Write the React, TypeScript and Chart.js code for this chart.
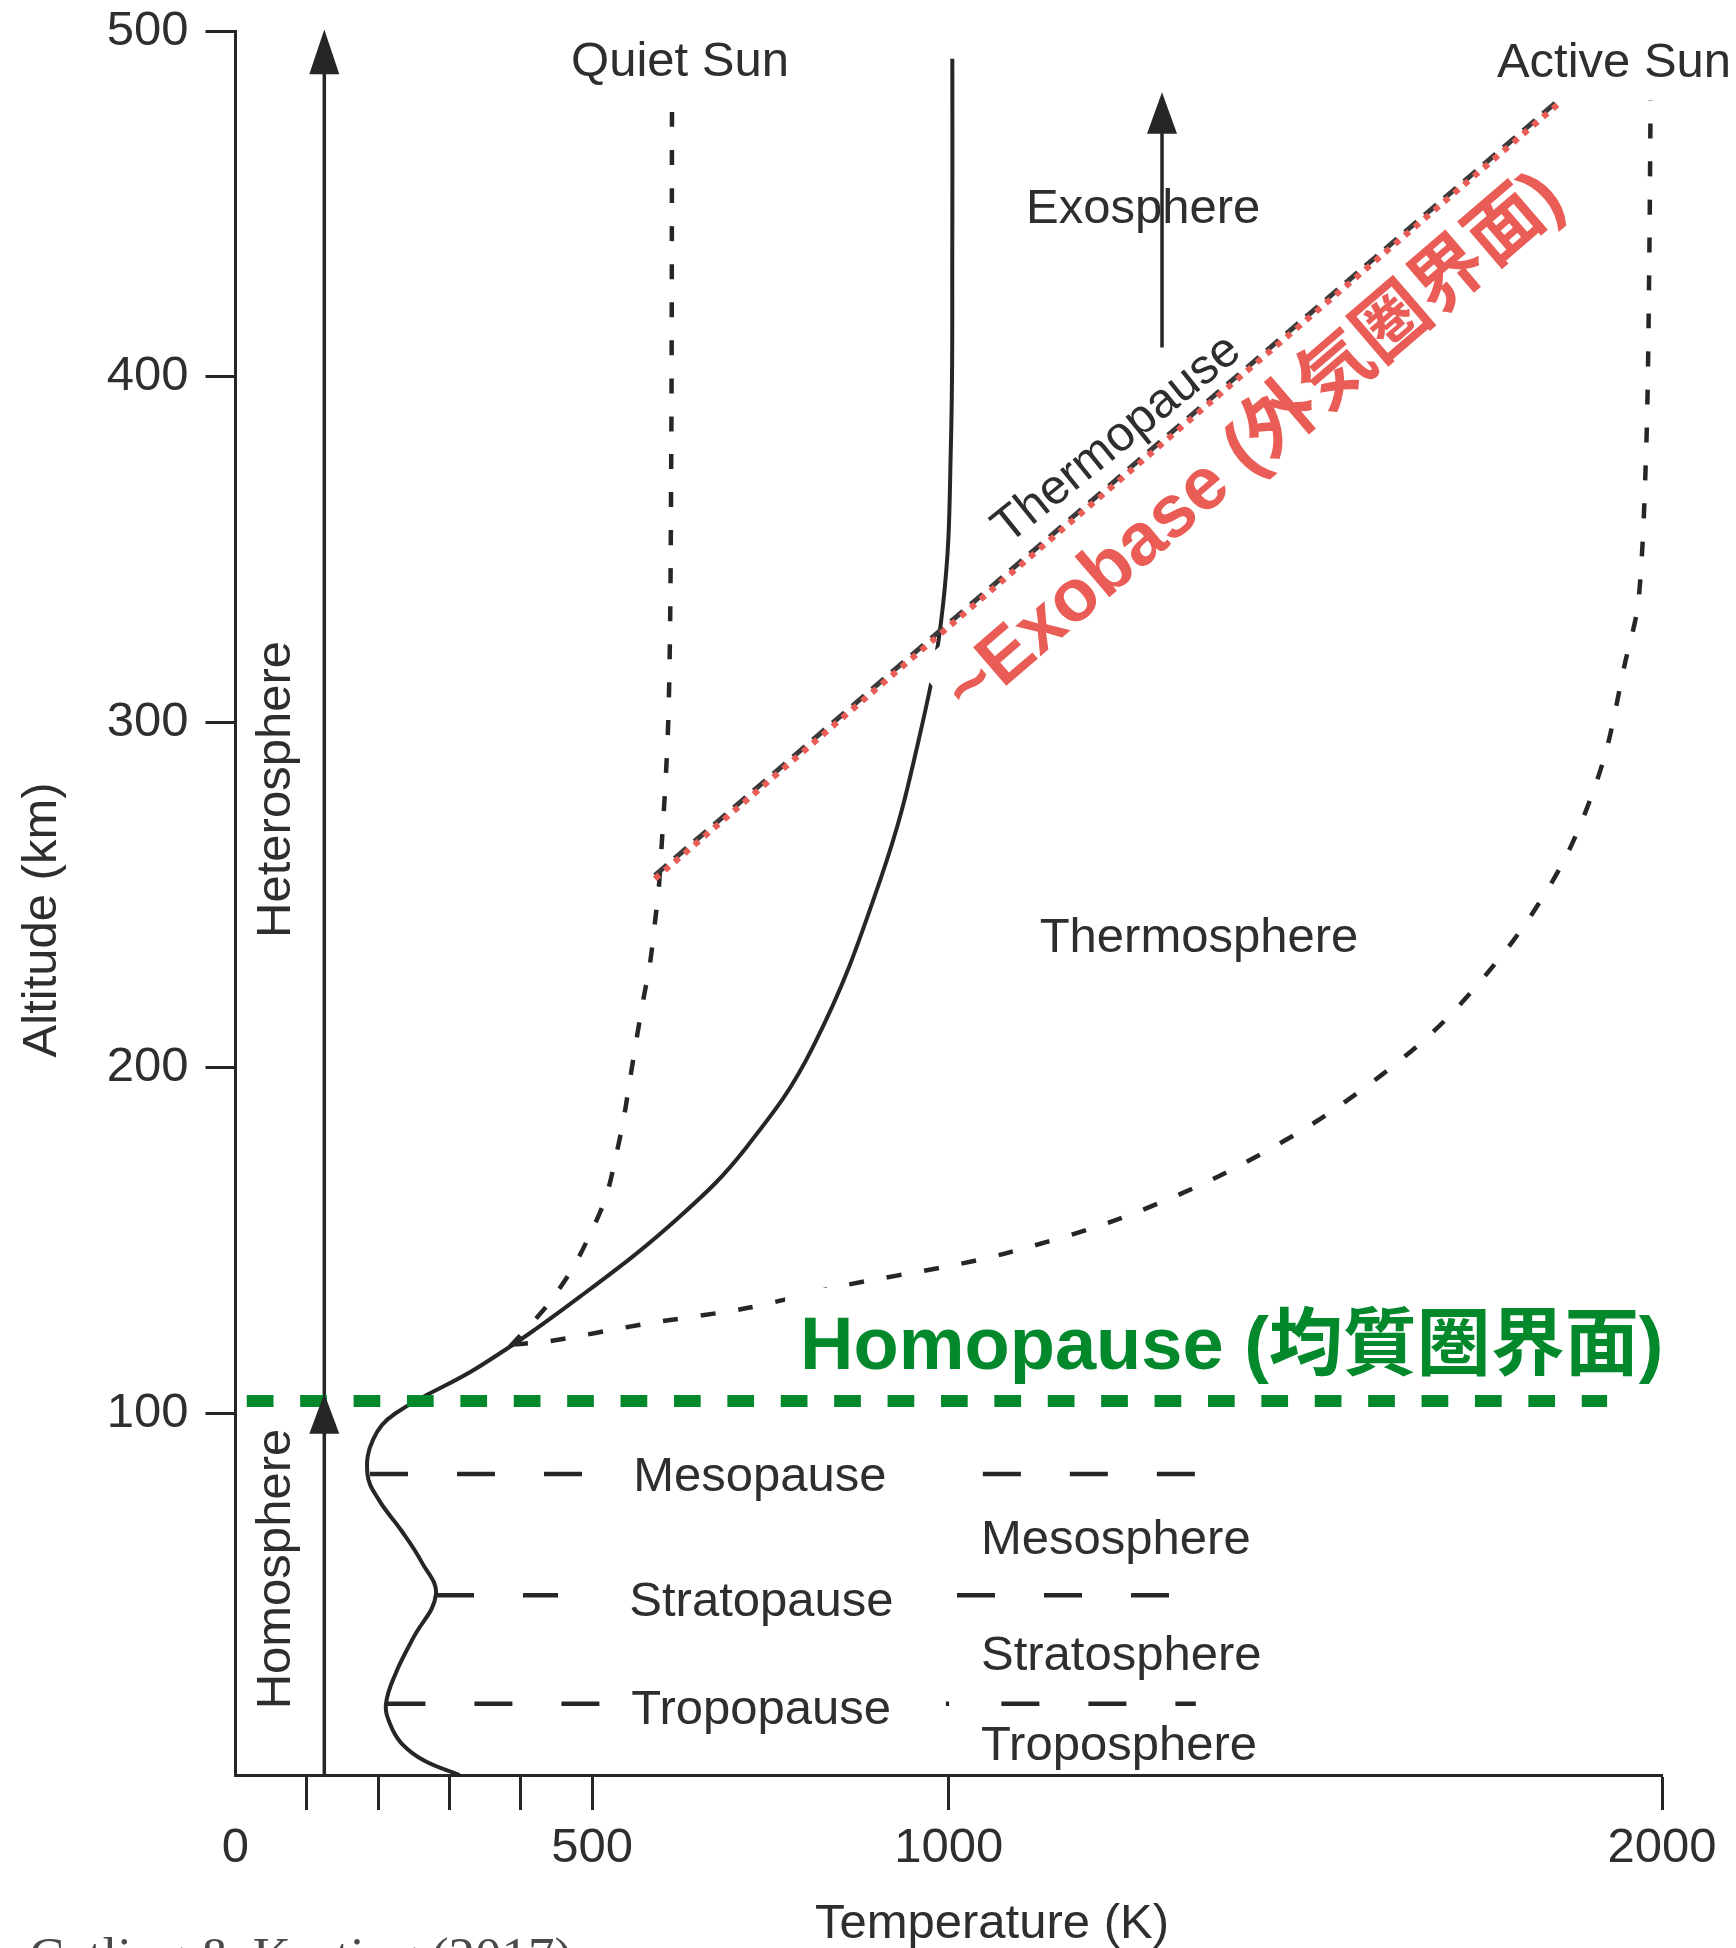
import React, { useEffect, useRef } from 'react';
import { Chart, registerables } from 'chart.js';

Chart.register(...registerables);

const W = 1736;
const H = 1948;

// ---------- axes ----------
const tempMin = 0;
const tempMax = 2000;
const altMin = -4.6;
const altMax = 500;
const tempTickValues = [0, 100, 200, 300, 400, 500, 1000, 2000];
const tempTickLabels = [0, 500, 1000, 2000];
const altTickValues = [100, 200, 300, 400, 500];

// ---------- mean temperature profile (K, km) ----------
const profileT = [314, 265, 233, 217, 211, 225, 249, 281, 261, 233, 201, 185, 193, 224, 342, 483, 623, 717, 810, 904, 958, 992, 1003, 1005, 1005];
const profileAlt = [-4.6, -0.5, 4.5, 10, 16, 25, 35, 47.6, 57, 66, 75, 82.5, 92.5, 100, 113.6, 133.8, 157, 177.2, 206.2, 254.4, 295, 334, 380, 440, 492];

// ---------- solar-condition branches ----------
const quietSunT = [385, 436, 474, 502, 520, 534, 544, 553, 562, 572, 581, 588, 594, 607, 611, 612];
const quietSunAlt = [119.4, 131, 142.5, 154, 163, 175, 185, 196.5, 208, 220, 230, 242, 253.4, 302, 380, 479];
const activeSunT = [389, 436, 577, 717, 857, 997, 1081, 1231, 1380, 1530, 1679, 1791, 1866, 1918, 1948, 1967, 1978, 1982, 1984];
const activeSunAlt = [120, 120.8, 126, 130.5, 137.2, 142.5, 146.4, 155.7, 168.8, 186.5, 210.4, 236.7, 261.4, 289, 317, 335, 380, 430, 480];

// ---------- thermopause / exobase ----------
const exobaseT = [588, 1858];
const exobaseAlt = [254.7, 479.5];
const thermopauseAlt = [255.7, 480.5];

// ---------- pauses (dashed levels) ----------
const pauseNames = ['Mesopause', 'Stratopause', 'Tropopause'];
const pauseAlt = [82.5, 47.4, 16.0];
const pauseLeftT = [[188.6, 486.7], [281.1, 452.2], [213.0, 510.8]];
const pauseRightT = [[1047.8, 1346.4], [1011.6, 1314.7], [1073.8, 1346.4]];
const tropopauseDotT = [996, 1000.5];
const pauseLabelT = [557.7, 552.1, 555];
const pauseLabelAlt = [77.7, 41.4, 10.2];

// ---------- homopause ----------
const homopauseAlt = 103.6;
const homopauseT = [15.8, 1923];

// ---------- arrows ----------
const heteroArrowT = 124.5;
const heteroArrowAlt = [-4.6, 500.4]; // foot, tip
const heteroHeadBaseAlt = 487.5;
const homoHeadAlt = [94.1, 105.8]; // base, tip
const exoArrowT = 1299;
const exoArrowAlt = [408.4, 482.3];
const exoHeadBaseAlt = 470.3;

// ---------- labels ----------
const regionNames = ['Quiet Sun', 'Active Sun', 'Exosphere', 'Thermosphere', 'Mesosphere', 'Stratosphere', 'Troposphere'];
const regionT = [470.4, 1768.5, 1108.3, 1127.5, 1045.2, 1045.2, 1045.2];
const regionAlt = [487, 486.8, 444.5, 233.6, 59.4, 25.7, -0.2];
const verticalNames = ['Heterosphere', 'Homosphere'];
const verticalT = [77.0, 77.0];
const verticalAlt = [237.6, 14.4];
const thermopauseLabel = 'Thermopause';
const thermopauseLabelPos = [1083, 351.3];
const exobaseLabel = '~Exobase (外気圏界面)';
const exobaseLabelPos = [1029.2, 301.5];
const homopauseLabel = 'Homopause (均質圏界面)';
const homopauseLabelPos = [791.6, 112.9];
const xTitle = 'Temperature (K)';
const yTitle = 'Altitude (km)';
const citation = 'Catling & Kasting (2017)';

// ---------- styles ----------
const SANS = '"Liberation Sans", Arial, Helvetica, sans-serif';
const CJK = '"Liberation Sans", Arial, "Noto Sans CJK JP", sans-serif';
const TEXT = '#2e2e2e';
const LINE = '#262626';
const RED = '#EA5C56';
const GREEN = '#03882C';

const pts = (xs: number[], ys: number[]) => xs.map((x, i) => ({ x, y: ys[i] }));
const hseg = (t: number[], a: number) => [{ x: t[0], y: a }, { x: t[1], y: a }];

const overlay = {
  id: 'overlay',
  afterDatasetsDraw(chart: any) {
    const ctx: CanvasRenderingContext2D = chart.ctx;
    const xs = chart.scales.x;
    const ys = chart.scales.y;
    const px = (t: number) => xs.getPixelForValue(t);
    const py = (a: number) => ys.getPixelForValue(a);

    ctx.save();
    // arrow heads
    const head = (t: number, baseAlt: number, tipAlt: number, hw: number) => {
      const x = px(t);
      const yb = py(baseAlt);
      const yt = py(tipAlt);
      ctx.beginPath();
      ctx.moveTo(x, yt);
      ctx.lineTo(x - hw, yb);
      ctx.lineTo(x + hw, yb);
      ctx.closePath();
      ctx.fillStyle = LINE;
      ctx.fill();
    };
    head(heteroArrowT, heteroHeadBaseAlt, heteroArrowAlt[1], 15);
    head(heteroArrowT, homoHeadAlt[0], homoHeadAlt[1], 15);
    head(exoArrowT, exoHeadBaseAlt, exoArrowAlt[1], 15);

    const text = (s: string, x: number, y: number, font: string, color: string, angle = 0, align: CanvasTextAlign = 'left') => {
      ctx.save();
      ctx.translate(x, y);
      ctx.rotate(angle);
      ctx.font = font;
      ctx.fillStyle = color;
      ctx.textAlign = align;
      ctx.textBaseline = 'alphabetic';
      ctx.fillText(s, 0, 0);
      ctx.restore();
    };

    const labelFont = `49px ${SANS}`;
    regionNames.forEach((n, i) => text(n, px(regionT[i]), py(regionAlt[i]), labelFont, TEXT));
    pauseNames.forEach((n, i) => text(n, px(pauseLabelT[i]), py(pauseLabelAlt[i]), labelFont, TEXT));
    verticalNames.forEach((n, i) => text(n, px(verticalT[i]), py(verticalAlt[i]), labelFont, TEXT, -Math.PI / 2));

    const ang = Math.atan2(py(exobaseAlt[1]) - py(exobaseAlt[0]), px(exobaseT[1]) - px(exobaseT[0]));
    text(thermopauseLabel, px(thermopauseLabelPos[0]), py(thermopauseLabelPos[1]), labelFont, TEXT, ang + 0.03);

    // exobase label with white backing
    ctx.save();
    ctx.translate(px(exobaseLabelPos[0]), py(exobaseLabelPos[1]));
    ctx.rotate(ang);
    ctx.font = `bold 74px ${CJK}`;
    const we = ctx.measureText(exobaseLabel).width;
    ctx.fillStyle = '#ffffff';
    ctx.fillRect(-8, -73, we + 16, 93);
    ctx.fillStyle = RED;
    ctx.textBaseline = 'alphabetic';
    ctx.fillText(exobaseLabel, 0, 0);
    ctx.restore();

    // homopause label with white backing
    ctx.save();
    ctx.font = `bold 74px ${CJK}`;
    const hx = px(homopauseLabelPos[0]);
    const hy = py(homopauseLabelPos[1]);
    const wh = ctx.measureText(homopauseLabel).width;
    ctx.fillStyle = '#ffffff';
    ctx.fillRect(hx - 15, hy - 81, wh + 30, 103);
    ctx.fillStyle = GREEN;
    ctx.textBaseline = 'alphabetic';
    ctx.fillText(homopauseLabel, hx, hy);
    ctx.restore();

    // axis titles
    const ca = chart.chartArea;
    text(yTitle, 56, py(242.8), `49px ${SANS}`, TEXT, -Math.PI / 2, 'center');
    text(xTitle, px(1060.6), ca.bottom + 163, `49px ${SANS}`, TEXT, 0, 'center');

    // citation (cut off by the bottom edge, as in the source)
    text(citation, 29, H + 26, `53px "Liberation Serif", "Times New Roman", serif`, '#4a4a4a');
    ctx.restore();
  },
};

export default function App() {
  const ref = useRef<HTMLCanvasElement>(null);

  useEffect(() => {
    const canvas = ref.current;
    if (!canvas) return;

    const dotted = { borderColor: LINE, borderWidth: 4.5, borderDash: [15, 23], pointRadius: 0, tension: 0.3, showLine: true, fill: false };
    const pauseStyle = { borderColor: LINE, borderWidth: 4.5, borderDash: [38, 49], pointRadius: 0, tension: 0, showLine: true, fill: false, order: 6 };
    const datasets: any[] = [
      { label: 'Mean profile', data: pts(profileT, profileAlt), borderColor: LINE, borderWidth: 4, pointRadius: 0, tension: 0.4, showLine: true, fill: false, order: 5 },
      { label: 'Quiet Sun', data: pts(quietSunT, quietSunAlt), ...dotted, order: 5 },
      { label: 'Active Sun', data: pts(activeSunT, activeSunAlt), ...dotted, order: 5 },
      { label: 'Thermopause', data: pts(exobaseT, thermopauseAlt), borderColor: '#3a3a3a', borderWidth: 5, borderDash: [16, 10], pointRadius: 0, tension: 0, showLine: true, order: 4 },
      { label: 'Exobase', data: pts(exobaseT, exobaseAlt), borderColor: RED, borderWidth: 6, borderDash: [6, 7], pointRadius: 0, tension: 0, showLine: true, order: 1 },
      { label: 'Heterosphere arrow', data: [{ x: heteroArrowT, y: heteroArrowAlt[0] }, { x: heteroArrowT, y: heteroHeadBaseAlt + 1 }], borderColor: LINE, borderWidth: 3.5, pointRadius: 0, showLine: true, order: 5 },
      { label: 'Exosphere arrow', data: [{ x: exoArrowT, y: exoArrowAlt[0] }, { x: exoArrowT, y: exoHeadBaseAlt + 1 }], borderColor: LINE, borderWidth: 3.5, pointRadius: 0, showLine: true, order: 5 },
    ];
    pauseNames.forEach((n, i) => {
      datasets.push({ label: n + ' L', data: hseg(pauseLeftT[i], pauseAlt[i]), ...pauseStyle });
      datasets.push({ label: n + ' R', data: hseg(pauseRightT[i], pauseAlt[i]), ...pauseStyle });
    });
    datasets.push({ label: 'Tropopause dot', data: hseg(tropopauseDotT, pauseAlt[2]), borderColor: LINE, borderWidth: 4.5, pointRadius: 0, showLine: true, order: 6 });
    datasets.push({ label: 'Homopause', data: hseg(homopauseT, homopauseAlt), borderColor: GREEN, borderWidth: 12, borderDash: [26.7, 26.7], pointRadius: 0, showLine: true, order: 0 });

    const chart = new Chart(canvas, {
      type: 'scatter',
      data: { datasets },
      plugins: [overlay as any],
      options: {
        animation: false,
        responsive: false,
        devicePixelRatio: 1,
        events: [],
        layout: { padding: { top: 31, right: 74, left: 0, bottom: 0 } },
        plugins: { legend: { display: false }, tooltip: { enabled: false }, title: { display: false } },
        scales: {
          x: {
            type: 'linear',
            min: tempMin,
            max: tempMax,
            afterBuildTicks: (axis: any) => { axis.ticks = tempTickValues.map((v) => ({ value: v })); },
            afterFit: (axis: any) => { axis.height = 173; },
            ticks: {
              autoSkip: false,
              maxRotation: 0,
              minRotation: 0,
              padding: 9,
              color: TEXT,
              font: { family: SANS, size: 49 },
              callback: (v: any) => (tempTickLabels.includes(Number(v)) ? String(v) : ''),
            },
            grid: {
              drawOnChartArea: false,
              drawTicks: true,
              tickLength: 35,
              tickWidth: 3,
              tickColor: (c: any) => (c.tick && c.tick.value === 0 ? 'rgba(0,0,0,0)' : LINE),
            },
            border: { display: true, color: LINE, width: 3 },
          },
          y: {
            type: 'linear',
            min: altMin,
            max: altMax,
            afterBuildTicks: (axis: any) => { axis.ticks = altTickValues.map((v) => ({ value: v })); },
            afterFit: (axis: any) => { axis.width = 235.5; },
            ticks: {
              autoSkip: false,
              padding: 17,
              color: TEXT,
              font: { family: SANS, size: 49, lineHeight: 0.5 },
              callback: (v: any) => String(v),
            },
            grid: { drawOnChartArea: false, drawTicks: true, tickLength: 30, tickWidth: 3, tickColor: LINE },
            border: { display: true, color: LINE, width: 3 },
          },
        },
      } as any,
    });
    return () => chart.destroy();
  }, []);

  return (
    <canvas
      ref={ref}
      width={W}
      height={H}
      style={{ position: 'absolute', left: 0, top: 0, width: W, height: H, background: '#ffffff' }}
    />
  );
}
